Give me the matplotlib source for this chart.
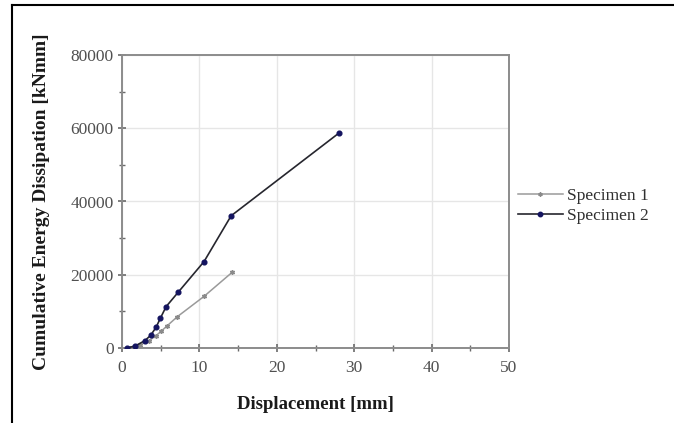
import matplotlib
matplotlib.use("Agg")
import matplotlib.pyplot as plt
from matplotlib.lines import Line2D

spec1_x = [1.0, 2.3, 3.5, 4.35, 5.05, 5.8, 7.15, 10.6, 14.25]
spec1_y = [100, 800, 2000, 3300, 4550, 6000, 8550, 14100, 20700]
spec2_x = [0.6, 1.7, 2.95, 3.7, 4.4, 4.95, 5.7, 7.25, 10.6, 14.1, 28.1]
spec2_y = [0, 550, 2000, 3450, 5650, 8100, 11300, 15200, 23600, 36100, 58800]
series_names = ["Specimen 1", "Specimen 2"]
xticks = [0, 10, 20, 30, 40, 50]
yticks = [0, 20000, 40000, 60000, 80000]

plt.rcParams['font.family'] = ['Liberation Serif', 'DejaVu Serif']

fig = plt.figure(figsize=(6.74, 4.23), dpi=100)
ax = fig.add_axes([122/674, 1-348/423, (509-122)/674, (348-55)/423])

ax.plot(spec1_x, spec1_y, color='#9a9a9a', lw=1.1, marker=(6, 2, 0), ms=3.5,
        mec='#8a8a8a', mfc='#8a8a8a', label=series_names[0], zorder=3)
ax.plot(spec2_x, spec2_y, color='#26262e', lw=1.2, marker='o', ms=3.4,
        mec='#141460', mfc='#141460', label=series_names[1], zorder=4)

ax.set_xlim(0, 50)
ax.set_ylim(0, 80000)
ax.set_xticks(xticks)
ax.set_yticks(yticks)
ax.set_xticks(range(5, 50, 10), minor=True)
ax.set_yticks(range(10000, 80000, 20000), minor=True)
ax.grid(True, which='major', color='#e6e6e6', lw=1.0, zorder=0)
ax.set_axisbelow(True)
for s in ax.spines.values():
    s.set_color('#8c8c8c')
    s.set_linewidth(1.4)
ax.tick_params(axis='both', which='major', direction='inout', length=6, width=1.2,
               color='#6a6a6a', labelsize=12.5, labelcolor='#505050')
ax.tick_params(axis='x', which='major', pad=6)
ax.tick_params(axis='y', which='major', pad=3)
ax.tick_params(axis='both', which='minor', direction='inout', length=4, width=1.0,
               color='#6a6a6a')

ax.set_xlabel("Displacement [mm]", fontsize=13.5, fontweight='bold', color='#1a1a1a', labelpad=14)
ax.set_ylabel("Cumulative Energy Dissipation [kNmm]", fontsize=14, fontweight='bold',
              color='#1a1a1a', labelpad=15)

handles = [
    Line2D([], [], color='#9a9a9a', lw=1.1, marker=(6, 2, 0), ms=3, mec='#8a8a8a'),
    Line2D([], [], color='#26262e', lw=1.2, marker='o', ms=3.2, mec='#141460', mfc='#141460'),
]
fig.legend(handles, series_names, loc='center left', bbox_to_anchor=(502/674, 1-206/423),
           frameon=False, fontsize=12.5, handlelength=2.6, handletextpad=0.25,
           labelspacing=0.2, labelcolor='#303030')

# outer frame (left and top)
fig.add_artist(Line2D([12/674, 12/674], [0, 1-5/423], color='black', lw=1.5,
                      transform=fig.transFigure))
fig.add_artist(Line2D([12/674, 1], [1-5/423, 1-5/423], color='black', lw=1.5,
                      transform=fig.transFigure))

fig.savefig("out.png", dpi=100)
